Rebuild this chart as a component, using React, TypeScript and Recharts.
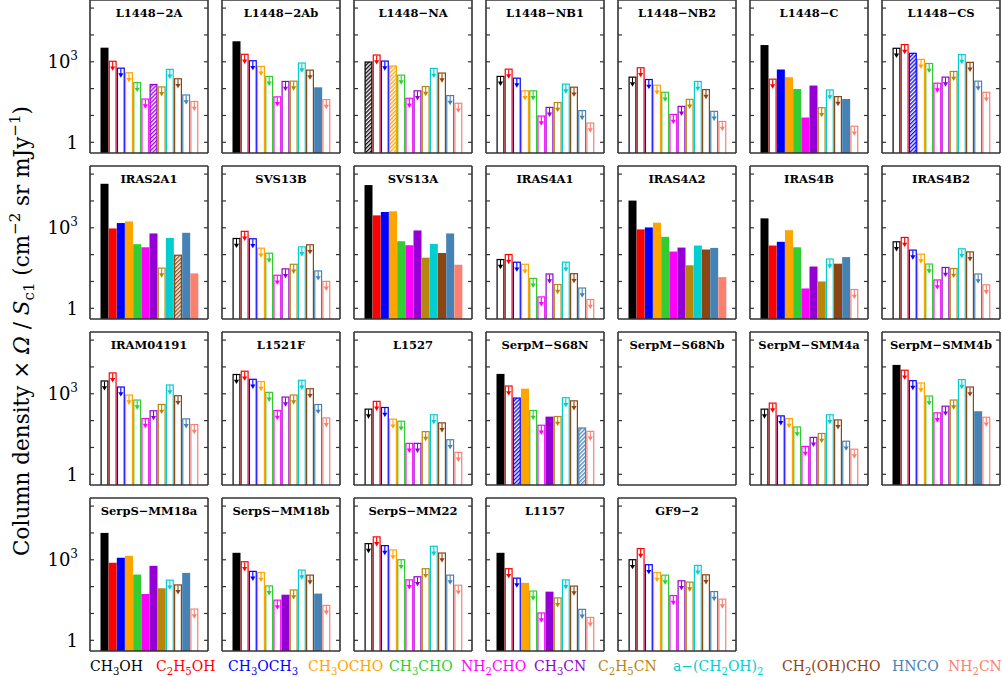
import React from 'react';
import { BarChart, Bar, XAxis, YAxis } from 'recharts';

// molecules, in plotting order ("_x" = subscript x)
const MOLECULES = ['CH_3OH', 'C_2H_5OH', 'CH_3OCH_3', 'CH_3OCHO', 'CH_3CHO', 'NH_2CHO', 'CH_3CN', 'C_2H_5CN', 'a−(CH_2OH)_2', 'CH_2(OH)CHO', 'HNCO', 'NH_2CN'];
const COLORS = ['#000000', '#ff0000', '#0000ff', '#ffa500', '#32cd32', '#ff00ff', '#9400d3', '#b8860b', '#00ced1', '#8b4513', '#4682b4', '#fa8072'];
const LEGEND_X = [90, 156, 228, 308, 389, 461, 534, 598, 673, 782, 892, 948];
const Y_TICKS = [1, 10, 100, 1000, 10000, 100000];

// column density x Omega / S_c1 per source; flags: d = detection, u = upper limit, h = hatched
const L1448_2A = [3350, 1100, 610, 410, 178, 43, 150, 122, 550, 245, 61, 35];
const L1448_2A_F = 'duuuuuhuuuuu';
const L1448_2AB = [5800, 2000, 1150, 710, 300, 52, 195, 200, 945, 515, 112, 41];
const L1448_2AB_F = 'duuuuuuuuudu';
const L1448_NA = [1030, 1880, 1120, 730, 335, 46, 87, 126, 595, 400, 58, 30];
const L1448_NA_F = 'huuhuuuuuuuu';
const L1448_NB1 = [300, 560, 258, 87, 87, 10, 21, 32, 155, 119, 16, 5.5];
const L1448_NB1_F = 'uuuuuuuuuuuu';
const L1448_NB2 = [282, 630, 230, 141, 77, 11.5, 23, 42, 195, 97, 15, 6.3];
const L1448_NB2_F = 'uuuuuuuuuuuu';
const L1448_C = [4200, 237, 515, 266, 97, 8.4, 130, 20.5, 94, 53, 41, 4.2];
const L1448_C_F = 'duddddduuudu';
const L1448_CS = [3350, 4600, 2180, 1290, 910, 168, 282, 460, 1940, 1000, 200, 77];
const L1448_CS_F = 'uuhuuuuuuuuu';

const IRAS2A1 = [43500, 945, 1500, 1730, 245, 188, 615, 33, 420, 100, 650, 20];
const IRAS2A1_F = 'dddddddudhdd';
const SVS13B = [420, 775, 410, 183, 119, 18, 31, 46, 205, 245, 26, 10.6];
const SVS13B_F = 'uuuuuuuuuuuu';
const SVS13A = [38900, 2900, 3870, 4100, 316, 224, 795, 77, 251, 115, 615, 42];
const SVS13A_F = 'dddddddddddd';
const IRAS4A1 = [69, 106, 55, 46, 13.7, 2.8, 20, 8.1, 55, 20.5, 6, 2.24];
const IRAS4A1_F = 'uuuuuuuuuuuu';
const IRAS4A2 = [10300, 870, 1030, 1550, 460, 130, 183, 40, 218, 155, 178, 14.5];
const IRAS4A2_F = 'dddddddddddd';
const IRAS4B = [2240, 218, 300, 815, 188, 5.5, 36, 10, 72, 46, 81, 5.3];
const IRAS4B_F = 'dddddddduddu';
const IRAS4B2 = [316, 460, 155, 110, 47, 12, 35, 32, 174, 133, 20, 7.9];
const IRAS4B2_F = 'uuuuuuuuuuuu';

const IRAM04191 = [3160, 6300, 1880, 945, 615, 126, 245, 420, 2240, 890, 122, 75];
const IRAM04191_F = 'uuuuuuuuuuuu';
const L1521F = [5500, 7300, 3650, 3000, 1190, 251, 795, 945, 3350, 1620, 420, 133];
const L1521F_F = 'uuuuuuuuuuuu';
const L1527 = [282, 550, 325, 119, 100, 15, 15, 41, 174, 87, 20.5, 6.9];
const L1527_F = 'uuuuuuuuuuuu';
const SERPM_S68N = [5500, 2050, 730, 1550, 251, 71, 141, 150, 750, 575, 56, 42];
const SERPM_S68N_F = 'duhduuduuuhu';
const SERPM_SMM4A = [282, 473, 158, 126, 61, 11.5, 25, 35, 174, 112, 18, 9.1];
const SERPM_SMM4A_F = 'uuuuuuuuuuuu';
const SERPM_SMM4B = [11900, 7940, 3240, 2660, 870, 205, 363, 615, 3550, 1880, 224, 141];
const SERPM_SMM4B_F = 'duuuuuuuuudu';

const SERPS_MM18A = [10000, 775, 1190, 1410, 282, 53, 595, 87, 183, 122, 325, 15.4];
const SERPS_MM18A_F = 'dddddddduudu';
const SERPS_MM18B = [1820, 890, 390, 355, 112, 33, 50, 79, 435, 282, 55, 21];
const SERPS_MM18B_F = 'duuuuuduuudu';
const SERPS_MM22 = [4200, 7500, 3550, 2450, 1060, 188, 245, 490, 3350, 1880, 282, 119];
const SERPS_MM22_F = 'uuuuuuuuuuuu';
const L1157 = [1820, 490, 218, 138, 72, 11, 65, 40, 188, 110, 15, 7.5];
const L1157_F = 'duuduuduuuuu';
const GF9_2 = [1060, 2750, 690, 355, 282, 49, 174, 155, 650, 290, 69, 36];
const GF9_2_F = 'uuuuuuuuuuuu';

const PANELS: { name: string; v: number[] | null; f: string }[] = [
  { name: 'L1448−2A', v: L1448_2A, f: L1448_2A_F },
  { name: 'L1448−2Ab', v: L1448_2AB, f: L1448_2AB_F },
  { name: 'L1448−NA', v: L1448_NA, f: L1448_NA_F },
  { name: 'L1448−NB1', v: L1448_NB1, f: L1448_NB1_F },
  { name: 'L1448−NB2', v: L1448_NB2, f: L1448_NB2_F },
  { name: 'L1448−C', v: L1448_C, f: L1448_C_F },
  { name: 'L1448−CS', v: L1448_CS, f: L1448_CS_F },
  { name: 'IRAS2A1', v: IRAS2A1, f: IRAS2A1_F },
  { name: 'SVS13B', v: SVS13B, f: SVS13B_F },
  { name: 'SVS13A', v: SVS13A, f: SVS13A_F },
  { name: 'IRAS4A1', v: IRAS4A1, f: IRAS4A1_F },
  { name: 'IRAS4A2', v: IRAS4A2, f: IRAS4A2_F },
  { name: 'IRAS4B', v: IRAS4B, f: IRAS4B_F },
  { name: 'IRAS4B2', v: IRAS4B2, f: IRAS4B2_F },
  { name: 'IRAM04191', v: IRAM04191, f: IRAM04191_F },
  { name: 'L1521F', v: L1521F, f: L1521F_F },
  { name: 'L1527', v: L1527, f: L1527_F },
  { name: 'SerpM−S68N', v: SERPM_S68N, f: SERPM_S68N_F },
  { name: 'SerpM−S68Nb', v: null, f: '' },
  { name: 'SerpM−SMM4a', v: SERPM_SMM4A, f: SERPM_SMM4A_F },
  { name: 'SerpM−SMM4b', v: SERPM_SMM4B, f: SERPM_SMM4B_F },
  { name: 'SerpS−MM18a', v: SERPS_MM18A, f: SERPS_MM18A_F },
  { name: 'SerpS−MM18b', v: SERPS_MM18B, f: SERPS_MM18B_F },
  { name: 'SerpS−MM22', v: SERPS_MM22, f: SERPS_MM22_F },
  { name: 'L1157', v: L1157, f: L1157_F },
  { name: 'GF9−2', v: GF9_2, f: GF9_2_F },
];

const FONT = '"DejaVu Serif", serif';
const FRAME = '#333333';

// turns "CH_3OH" into tspans with subscripts
function formula(s: string, shift: number) {
  const segs: { t: string; sub: boolean }[] = [];
  for (let k = 0; k < s.length; k++) {
    if (s[k] === '_') {
      segs.push({ t: s[k + 1], sub: true });
      k++;
    } else if (segs.length && !segs[segs.length - 1].sub) {
      segs[segs.length - 1].t += s[k];
    } else {
      segs.push({ t: s[k], sub: false });
    }
  }
  let prev = false;
  return segs.map((g, k) => {
    const dy = (g.sub ? shift : 0) - (prev ? shift : 0);
    prev = g.sub;
    return (
      <tspan key={k} dy={dy} fontSize={g.sub ? '0.72em' : undefined}>
        {g.t}
      </tspan>
    );
  });
}

function makeShape(pid: string) {
  return (p: any) => {
    const { x, y, width, height, payload } = p;
    if (payload.v == null || !height) return <g />;
    const c = COLORS[payload.i];
    if (payload.f === 'd') {
      return <rect x={x} y={y} width={width} height={height} fill={c} />;
    }
    if (payload.f === 'h') {
      return <rect x={x + 0.6} y={y + 0.6} width={width - 1.2} height={height} fill={`url(#${pid}-h${payload.i})`} stroke={c} strokeWidth={1.2} />;
    }
    const cx = x + width / 2;
    return (
      <g>
        <rect x={x + 0.6} y={y + 0.6} width={width - 1.2} height={height} fill="#fff" stroke={c} strokeWidth={1.2} />
        <line x1={cx} y1={y + 1} x2={cx} y2={y + 7} stroke={c} strokeWidth={1.1} />
        <polygon points={`${cx - 2.6},${y + 5.8} ${cx + 2.6},${y + 5.8} ${cx},${y + 10.2}`} fill={c} />
      </g>
    );
  };
}

const leftTick = (show: boolean) => (p: any) => {
  const { x, y, payload } = p;
  if (!show) return <g />;
  if (payload.value === 1) {
    return (
      <text x={x - 16} y={y} dy={6.5} textAnchor="end" fontFamily={FONT} fontSize={18} fill="#000">
        1
      </text>
    );
  }
  if (payload.value === 1000) {
    return (
      <text x={x - 16} y={y} dy={6.5} textAnchor="end" fontFamily={FONT} fontSize={18} fill="#000">
        10<tspan dy={-8} fontSize={12}>3</tspan>
      </text>
    );
  }
  return <g />;
};

function Panel({ idx, name, v, f }: { idx: number; name: string; v: number[] | null; f: string }) {
  const col = idx % 7;
  const row = Math.floor(idx / 7);
  const extra = col === 0 ? 60 : 0;
  const left = 90 + 132 * col;
  const top = 166 * row;
  const pid = 'p' + idx;
  const data = MOLECULES.map((m, i) => ({ m, i, v: v ? v[i] : null, f: f ? f[i] : 'u' }));
  const axisLine = { stroke: FRAME, strokeWidth: 1.6 };
  return (
    <>
      <div style={{ position: 'absolute', left: left - 1 - extra, top: top - 2 }}>
        <BarChart width={120 + extra} height={157} data={data} margin={{ top: 1, right: 1, bottom: 1, left: 1 + extra }} barCategoryGap={0} barGap={0}>
          <defs>
            {COLORS.map((c, i) => (
              <pattern key={i} id={`${pid}-h${i}`} patternUnits="userSpaceOnUse" width={2.8} height={2.8} patternTransform="rotate(45)">
                <rect width={2.8} height={2.8} fill="#fff" />
                <line x1={0.7} y1={0} x2={0.7} y2={2.8} stroke={c} strokeWidth={1.3} />
              </pattern>
            ))}
          </defs>
          <XAxis dataKey="m" height={1} tick={false} tickLine={false} axisLine={axisLine} padding={{ left: 10.5, right: 9.5 }} />
          <XAxis dataKey="m" xAxisId="t" orientation="top" height={1} tick={false} tickLine={false} axisLine={axisLine} />
          <YAxis
            type="number"
            scale="log"
            domain={[0.4, 200000]}
            allowDataOverflow
            ticks={Y_TICKS}
            interval={0}
            width={1}
            mirror
            tickSize={4}
            tickMargin={0}
            axisLine={axisLine}
            tickLine={{ stroke: FRAME, strokeWidth: 1.2 }}
            tick={leftTick(col === 0)}
          />
          <YAxis
            yAxisId="r"
            orientation="right"
            type="number"
            scale="log"
            domain={[0.4, 200000]}
            allowDataOverflow
            ticks={Y_TICKS}
            interval={0}
            width={1}
            mirror
            tickSize={4}
            axisLine={axisLine}
            tickLine={{ stroke: FRAME, strokeWidth: 1.2 }}
            tick={() => <g />}
          />
          <Bar dataKey="v" isAnimationActive={false} shape={makeShape(pid)} />
        </BarChart>
      </div>
      <div style={{ position: 'absolute', left, top: top + 5, width: 118, textAlign: 'center', fontFamily: FONT, fontSize: 11.5, fontWeight: 'bold', lineHeight: '16px', color: '#000' }}>
        {name}
      </div>
    </>
  );
}

export default function App() {
  return (
    <div style={{ position: 'absolute', left: 0, top: 0, width: 1002, height: 677, background: '#fff', overflow: 'hidden' }}>
      <svg width={1002} height={677} style={{ position: 'absolute', left: 0, top: 0 }}>
        <text transform="translate(29,331) rotate(-90)" textAnchor="middle" fontFamily={FONT} fontSize={21.5} fill="#000">
          Column density × <tspan fontStyle="italic">Ω</tspan> / <tspan fontStyle="italic">S</tspan>
          <tspan dy={5} fontSize={15}>c1</tspan>
          <tspan dy={-5}> (cm</tspan>
          <tspan dy={-9} fontSize={15}>−2</tspan>
          <tspan dy={9}> sr mJy</tspan>
          <tspan dy={-9} fontSize={15}>−1</tspan>
          <tspan dy={9}>)</tspan>
        </text>
        {MOLECULES.map((m, i) => (
          <text key={m} x={LEGEND_X[i]} y={671} fontFamily={FONT} fontSize={14} fill={COLORS[i]}>
            {formula(m, 4)}
          </text>
        ))}
      </svg>
      {PANELS.map((p, idx) => (
        <Panel key={p.name} idx={idx} name={p.name} v={p.v} f={p.f} />
      ))}
    </div>
  );
}
